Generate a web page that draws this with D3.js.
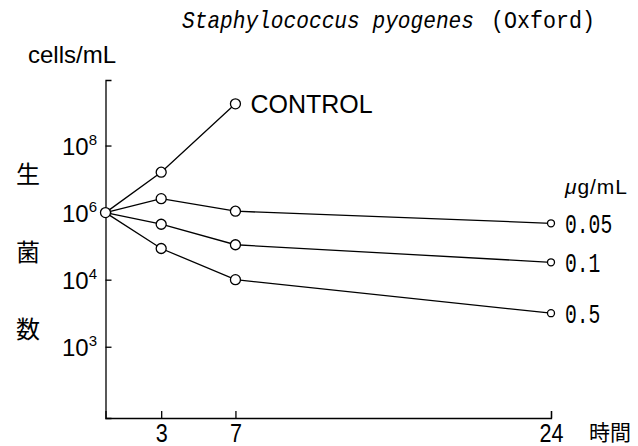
<!DOCTYPE html>
<html lang="ja">
<head>
<meta charset="utf-8">
<style>
    body { margin: 0; background: #fff; }
    svg { display: block; }
    .axis path, .axis line { stroke: #000; stroke-width: 1.3; fill: none; }
    .series { fill: none; stroke: #000; stroke-width: 1.3; }
    .dot { fill: #fff; stroke: #000; stroke-width: 1.3; }
    .narrow { font-family: "Liberation Sans Narrow", "Arial Narrow", "Liberation Sans", sans-serif; }
    .cjk { font-family: "Noto Sans CJK JP", sans-serif; }
    .mono { font-family: "Liberation Mono", "DejaVu Sans Mono", monospace; }
</style>
</head>
<body>
<svg width="638" height="446"></svg>
<script src="https://cdn.jsdelivr.net/npm/d3@7"></script>
<script>

    // values (cells/mL vs hours)
    var hours = [0, 3, 7, 24];
    var control = [1e6, 1.6e7, 1.75e9];          // stops at 7 h
    var conc005 = [1e6, 2.6e6, 1.1e6, 4.8e5];
    var conc01 = [1e6, 4.5e5, 1.1e5, 3.3e4];
    var conc05 = [1e6, 8.5e4, 1.0e4, 1.0e3];
    var concLabels = ["0.05", "0.1", "0.5"];
    var xTicks = [3, 7, 24];
    var yTicks = [1e8, 1e6, 1e4, 1e2];
    var yTickExp = ["8", "6", "4", "3"];          // as printed on the figure

    var svg = d3.select("svg");

    var x = d3.scaleLinear().domain([0, 24]).range([105.5, 551]);
    var y = d3.scaleLog().domain([0.75, 9e9]).range([418, 80]);

    // title: italic species name + strain
    svg.append("text")
        .attr("class", "mono")
        .attr("x", 182).attr("y", 28)
        .attr("font-size", 23)
        .attr("font-style", "italic")
        .attr("textLength", 292)
        .attr("lengthAdjust", "spacingAndGlyphs")
        .text("Staphylococcus pyogenes");
    svg.append("text")
        .attr("class", "mono")
        .attr("x", 491).attr("y", 28)
        .attr("font-size", 23)
        .attr("textLength", 104)
        .attr("lengthAdjust", "spacingAndGlyphs")
        .text("(Oxford)");

    svg.append("text")
        .attr("x", 28).attr("y", 63)
        .attr("font-family", "Liberation Sans, Arial, sans-serif")
        .attr("font-size", 24)
        .text("cells/mL");

    // y axis, ticks pointing inward
    var gy = svg.append("g")
        .attr("class", "axis")
        .attr("transform", "translate(" + x(0) + ",0)")
        .call(d3.axisLeft(y).tickValues(yTicks).tickSize(-6).tickSizeOuter(-6).tickFormat(""));
    gy.selectAll(".tick text").remove();

    var ylab = svg.append("g")
        .attr("font-family", "Liberation Sans, Arial, sans-serif")
        .selectAll("text")
        .data(yTicks)
        .enter().append("text")
        .attr("x", 97)
        .attr("y", function (d) { return y(d) + 9.5; })
        .attr("text-anchor", "end")
        .attr("font-size", 24);
    ylab.append("tspan").text("10");
    ylab.append("tspan")
        .attr("font-size", 15)
        .attr("dy", -10)
        .text(function (d, i) { return yTickExp[i]; });

    // x axis
    var gx = svg.append("g")
        .attr("class", "axis")
        .attr("transform", "translate(0," + y(0.75) + ")")
        .call(d3.axisBottom(x).tickValues(xTicks).tickSize(-7).tickSizeOuter(-7).tickFormat(d3.format("d")));
    gx.selectAll(".tick text")
        .attr("class", "narrow")
        .attr("y", 24).attr("dy", 0)
        .attr("font-size", 25)
        .attr("fill", "#000")
        .attr("textLength", function (d) { return String(d).length * 12; })
        .attr("lengthAdjust", "spacingAndGlyphs");

    svg.append("text")
        .attr("class", "cjk")
        .attr("x", 589).attr("y", 431)
        .attr("dominant-baseline", "central")
        .attr("font-size", 21)
        .text("時間");

    // vertical y label
    svg.append("g").attr("class", "cjk")
        .selectAll("text")
        .data(["生", "菌", "数"])
        .enter().append("text")
        .attr("x", 28)
        .attr("y", function (d, i) { return 172.5 + i * 77.5; })
        .attr("text-anchor", "middle")
        .attr("dominant-baseline", "central")
        .attr("font-size", 24)
        .text(function (d) { return d; });

    var line = d3.line()
        .x(function (d, i) { return x(hours[i]); })
        .y(function (d) { return y(d); });

    var series = [control, conc005, conc01, conc05];

    svg.append("g").selectAll("path")
        .data(series)
        .enter().append("path")
        .attr("class", "series")
        .attr("d", line);

    // points: one shared start point, smaller circles at 24 h
    series.forEach(function (s, k) {
        svg.append("g").selectAll("circle")
            .data(s.slice(k === 0 ? 0 : 1))
            .enter().append("circle")
            .attr("class", "dot")
            .attr("cx", function (d, i) { return x(hours[i + (k === 0 ? 0 : 1)]); })
            .attr("cy", function (d) { return y(d); })
            .attr("r", function (d, i) { return hours[i + (k === 0 ? 0 : 1)] === 24 ? 3.5 : 5; });
    });

    svg.append("text")
        .attr("x", x(7) + 15).attr("y", y(control[2]) + 9)
        .attr("font-family", "Liberation Sans, Arial, sans-serif")
        .attr("font-size", 25)
        .text("CONTROL");

    // unit and concentration labels
    var unit = svg.append("text")
        .attr("class", "narrow")
        .attr("x", 565).attr("y", 194)
        .attr("font-size", 21)
        .attr("textLength", 62)
        .attr("lengthAdjust", "spacing");
    unit.append("tspan").attr("font-style", "italic").text("μ");
    unit.append("tspan").text("g/mL");

    svg.append("g").selectAll("text")
        .data([conc005, conc01, conc05])
        .enter().append("text")
        .attr("class", "mono")
        .attr("x", x(24) + 14)
        .attr("y", function (d) { return y(d[3]) + 9.5; })
        .attr("font-size", 27)
        .attr("textLength", function (d, i) { return concLabels[i].length * 11.8; })
        .attr("lengthAdjust", "spacingAndGlyphs")
        .text(function (d, i) { return concLabels[i]; });

</script>
</body>
</html>
